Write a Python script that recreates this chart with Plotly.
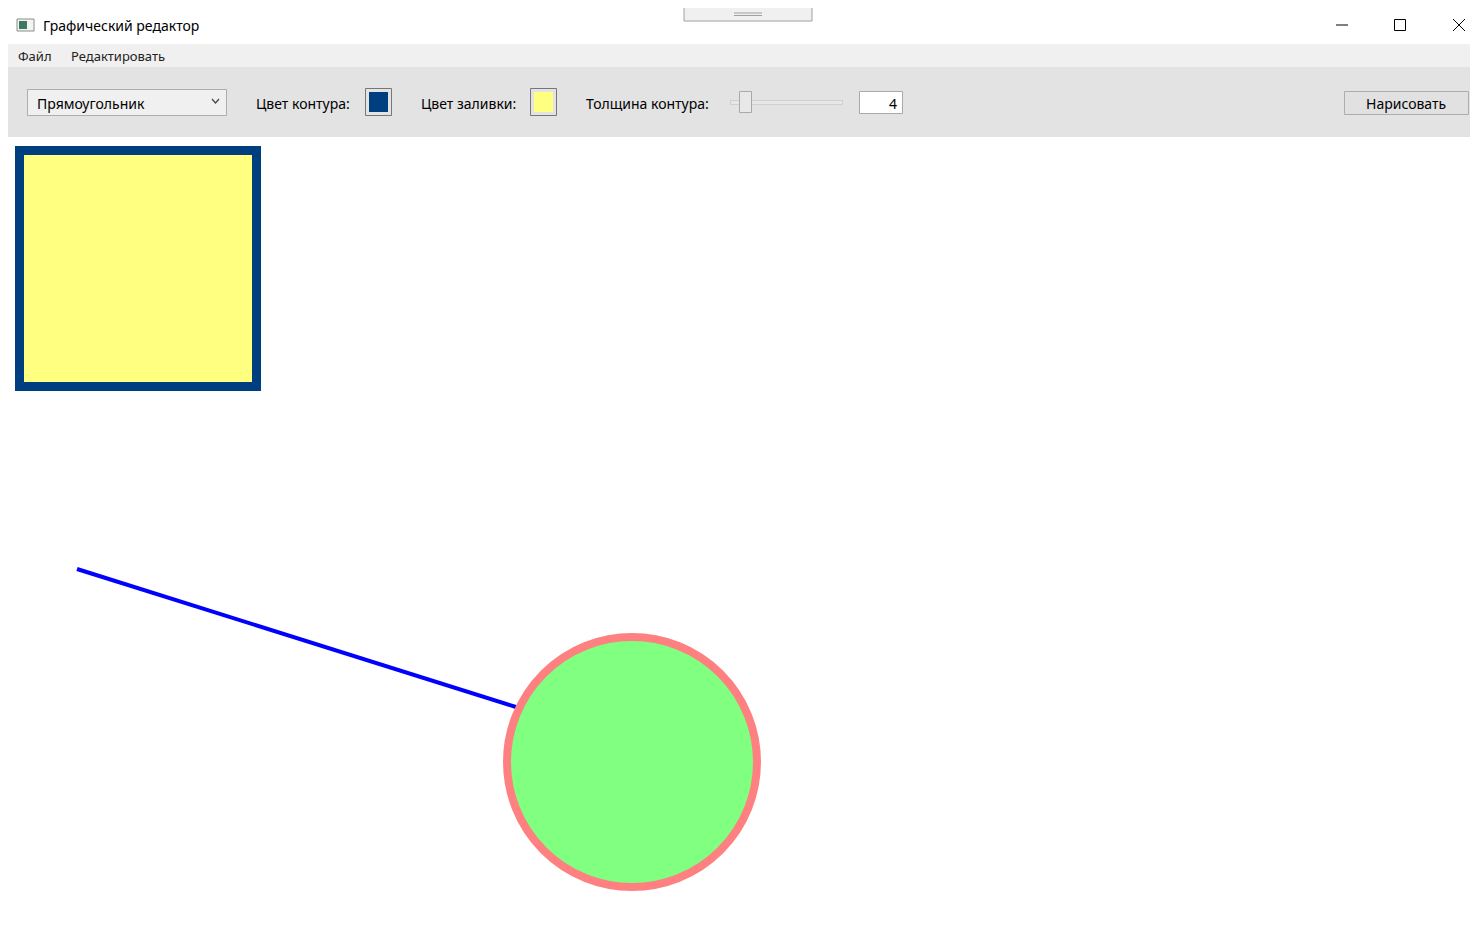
import plotly.graph_objects as go

W, H = 1478, 946
title = "Графический редактор"
menu_items = ["Файл", "Редактировать"]
menu_x = [8, 61]
shape_choice = "Прямоугольник"
labels = ["Цвет контура:", "Цвет заливки:", "Толщина контура:"]
label_x = [246, 411, 576]
stroke_color = "#003f7f"
fill_color = "#ffff80"
thickness = "4"
button_text = "Нарисовать"

# drawn figures on canvas (pixel coords)
rect_xy = [11.5, 142.5, 248.5, 378.5]
line_x = [69, 508]
line_y = [561, 699]
circle_c = [624, 754]
circle_r = 125

fig = go.Figure()
shapes = []
def rect(x0, y0, x1, y1, fill, line=None, lw=1):
    shapes.append(dict(type="rect", x0=x0, y0=y0, x1=x1, y1=y1, fillcolor=fill,
                       line=dict(color=line or fill, width=lw if line else 0), layer="below"))
def seg(x0, y0, x1, y1, color, lw=1):
    shapes.append(dict(type="line", x0=x0, y0=y0, x1=x1, y1=y1, line=dict(color=color, width=lw)))

rect(0, 0, W, 36, "#ffffff")
rect(0, 36, W, 59, "#f0f0f0")
rect(0, 59, W, 129, "#e3e3e3")
rect(0, 129, W, H, "#ffffff")
# icon
rect(9, 11, 26, 23, "#f4f4f4", "#8a8a8a")
rect(11, 13, 19, 21, "#3a7a60")
# handle
rect(676, -2, 804, 13, "#f0f0f0", "#a0a0a0")
seg(726, 5, 754, 5, "#a0a0a0"); seg(726, 7.5, 754, 7.5, "#a0a0a0")
# window controls
seg(1328, 17, 1340, 17, "#000000")
shapes.append(dict(type="rect", x0=1386.5, y0=11.5, x1=1397.5, y1=22.5, line=dict(color="#000", width=1)))
seg(1445, 11, 1457, 23, "#000"); seg(1457, 11, 1445, 23, "#000")
# combobox
rect(19.5, 81.5, 218.5, 107.5, "#f0f0f0", "#adadad")
shapes.append(dict(type="path", path="M 204 91 L 207.5 95 L 211 91", line=dict(color="#444", width=1.2)))
# swatches
rect(357.5, 80.5, 383.5, 107.5, "#e3e3e3", "#777777")
rect(361, 84, 380, 104, stroke_color)
rect(522.5, 80.5, 548.5, 107.5, "#e3e3e3", "#777777")
rect(526, 84, 545, 104, fill_color)
# slider
rect(722.5, 92.5, 834.5, 96.5, "#e7e7e7", "#d0d0d0")
rect(731.5, 83.5, 743.5, 104.5, "#e8e8e8", "#a9a9a9")
# textbox
rect(851.5, 83.5, 894.5, 105.5, "#ffffff", "#a9a9a9")
# button
rect(1336.5, 83.5, 1460.5, 106.5, "#e1e1e1", "#adadad")

# drawn figures
shapes.append(dict(type="rect", x0=rect_xy[0], y0=rect_xy[1], x1=rect_xy[2], y1=rect_xy[3],
                   fillcolor=fill_color, line=dict(color=stroke_color, width=9)))
fig.add_trace(go.Scatter(x=line_x, y=line_y, mode="lines", line=dict(color="#0000ff", width=4),
                         hoverinfo="skip", showlegend=False))
shapes.append(dict(type="circle", x0=circle_c[0]-circle_r, y0=circle_c[1]-circle_r,
                   x1=circle_c[0]+circle_r, y1=circle_c[1]+circle_r,
                   fillcolor="#80ff80", line=dict(color="#ff8080", width=8), layer="above"))

ann = []
def text(x, y, t, size=14, anchor="left", color="#000"):
    ann.append(dict(x=x, y=y, text=t, showarrow=False, xanchor=anchor, yanchor="middle",
                    font=dict(size=size, color=color, family="Noto Sans")))
text(33, 17, title, 14)
for t, x in zip(menu_items, menu_x):
    text(x, 48, t, 13, color="#222")
text(27, 95, shape_choice, 14)
for t, x in zip(labels, label_x):
    text(x, 95, t, 14)
text(891, 95, thickness, 14, "right")
text(1398, 95, button_text, 14, "center")

fig.update_layout(width=W, height=H, margin=dict(l=0, r=0, t=0, b=0),
                  plot_bgcolor="#ffffff", paper_bgcolor="#ffffff",
                  shapes=shapes, annotations=ann,
                  xaxis=dict(range=[0, W], visible=False, fixedrange=True),
                  yaxis=dict(range=[H, 0], visible=False, fixedrange=True))
fig.write_html("out.html", config={"displayModeBar": False})
